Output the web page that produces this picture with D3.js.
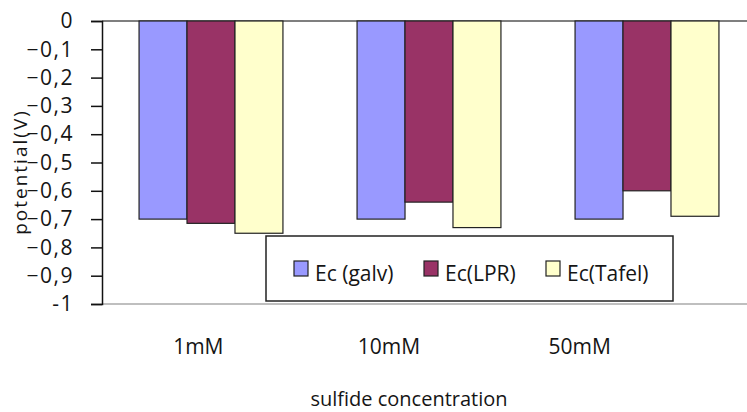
<!DOCTYPE html>
<html>
<head>
<meta charset="utf-8">
<script src="https://cdn.jsdelivr.net/npm/d3@7"></script>
<style>
  html, body { margin: 0; padding: 0; background: #fff; }
  svg { display: block; font-family: "Open Sans", sans-serif; }
</style>
</head>
<body>
<svg id="chart" width="747" height="412"></svg>
<script>
// Corrosion potential by sulfide concentration
const categories = ["1mM", "10mM", "50mM"];
const seriesNames = ["Ec (galv)", "Ec(LPR)", "Ec(Tafel)"];
const galv  = [-0.70, -0.70, -0.70];
const lpr   = [-0.715, -0.64, -0.60];
const tafel = [-0.75, -0.73, -0.69];
const yTicks = [0, -0.1, -0.2, -0.3, -0.4, -0.5, -0.6, -0.7, -0.8, -0.9, -1];
const colors = ["#9999ff", "#993366", "#ffffcc"];

const series = [galv, lpr, tafel];
const svg = d3.select("#chart");
const FONT = 21;
const TEXT = "#151515";

const plot = { left: 102, top: 21, right: 756, bottom: 304 };

const y = d3.scaleLinear().domain([0, -1]).range([plot.top, plot.bottom]);
const x0 = d3.scaleBand().domain(categories).range([plot.left, plot.right]).paddingInner(0.34).paddingOuter(0.17);
const x1 = d3.scaleBand().domain(seriesNames).range([0, x0.bandwidth()]);
// category labels sit on their own, narrower band
const xl = d3.scaleBand().domain(categories).range([103, 675]);

// top frame line and bottom baseline
svg.append("line").attr("x1", plot.left).attr("x2", 747).attr("y1", plot.top).attr("y2", plot.top)
  .attr("stroke", "#555").attr("stroke-width", 1.5);
svg.append("line").attr("x1", plot.left).attr("x2", 747).attr("y1", plot.bottom).attr("y2", plot.bottom)
  .attr("stroke", "#aaa").attr("stroke-width", 1.5);

// bars
const groups = svg.append("g").selectAll("g").data(categories).join("g")
  .attr("transform", c => `translate(${x0(c)},0)`);
groups.selectAll("rect").data((c, i) => seriesNames.map((s, j) => ({ s, j, v: series[j][i] })))
  .join("rect")
  .attr("x", d => x1(d.s))
  .attr("y", y(0))
  .attr("width", x1.bandwidth())
  .attr("height", d => y(d.v) - y(0))
  .attr("fill", d => colors[d.j])
  .attr("stroke", "#222").attr("stroke-width", 1.2);

// y axis
const yAxis = d3.axisLeft(y).tickValues(yTicks).tickSize(11).tickPadding(17)
  .tickFormat(d => d === 0 ? "0" : (d === -1 ? "-1" : d3.format(".1f")(d).replace(".", ",")));
const ya = svg.append("g").attr("transform", `translate(${plot.left},0)`).call(yAxis);
ya.select(".domain").attr("stroke", "#111").attr("stroke-width", 1.5);
ya.selectAll(".tick line").attr("stroke", "#111").attr("stroke-width", 1.5);
ya.selectAll("text").attr("font-size", FONT).attr("fill", TEXT)
  .attr("font-family", "'Open Sans', sans-serif").attr("letter-spacing", 1.5);

// category labels
svg.append("g").selectAll("text").data(categories).join("text")
  .attr("x", c => xl(c) + xl.bandwidth() / 2)
  .attr("y", 354)
  .attr("text-anchor", "middle")
  .attr("font-size", FONT).attr("fill", TEXT)
  .text(c => c);

// axis titles
svg.append("text").attr("x", 409).attr("y", 406).attr("text-anchor", "middle")
  .attr("font-size", 20).attr("fill", TEXT).text("sulfide concentration");
svg.append("text").attr("transform", "translate(27,172) rotate(-90)").attr("text-anchor", "middle")
  .attr("font-size", 19).attr("letter-spacing", 2).attr("fill", TEXT).text("potential(V)");

// legend
const legend = svg.append("g");
legend.append("rect").attr("x", 266).attr("y", 236).attr("width", 407).attr("height", 65)
  .attr("fill", "#fff").attr("stroke", "#222").attr("stroke-width", 1.5);
const legendX = [294, 424, 546];
const items = legend.selectAll("g.item").data(seriesNames).join("g").attr("class", "item")
  .attr("transform", (d, i) => `translate(${legendX[i]},261)`);
items.append("rect").attr("width", 14).attr("height", 15)
  .attr("fill", (d, i) => colors[i]).attr("stroke", "#222").attr("stroke-width", 1.2);
items.append("text").attr("x", 21).attr("y", 20).attr("font-size", FONT).attr("fill", TEXT).text(d => d);
</script>
</body>
</html>
